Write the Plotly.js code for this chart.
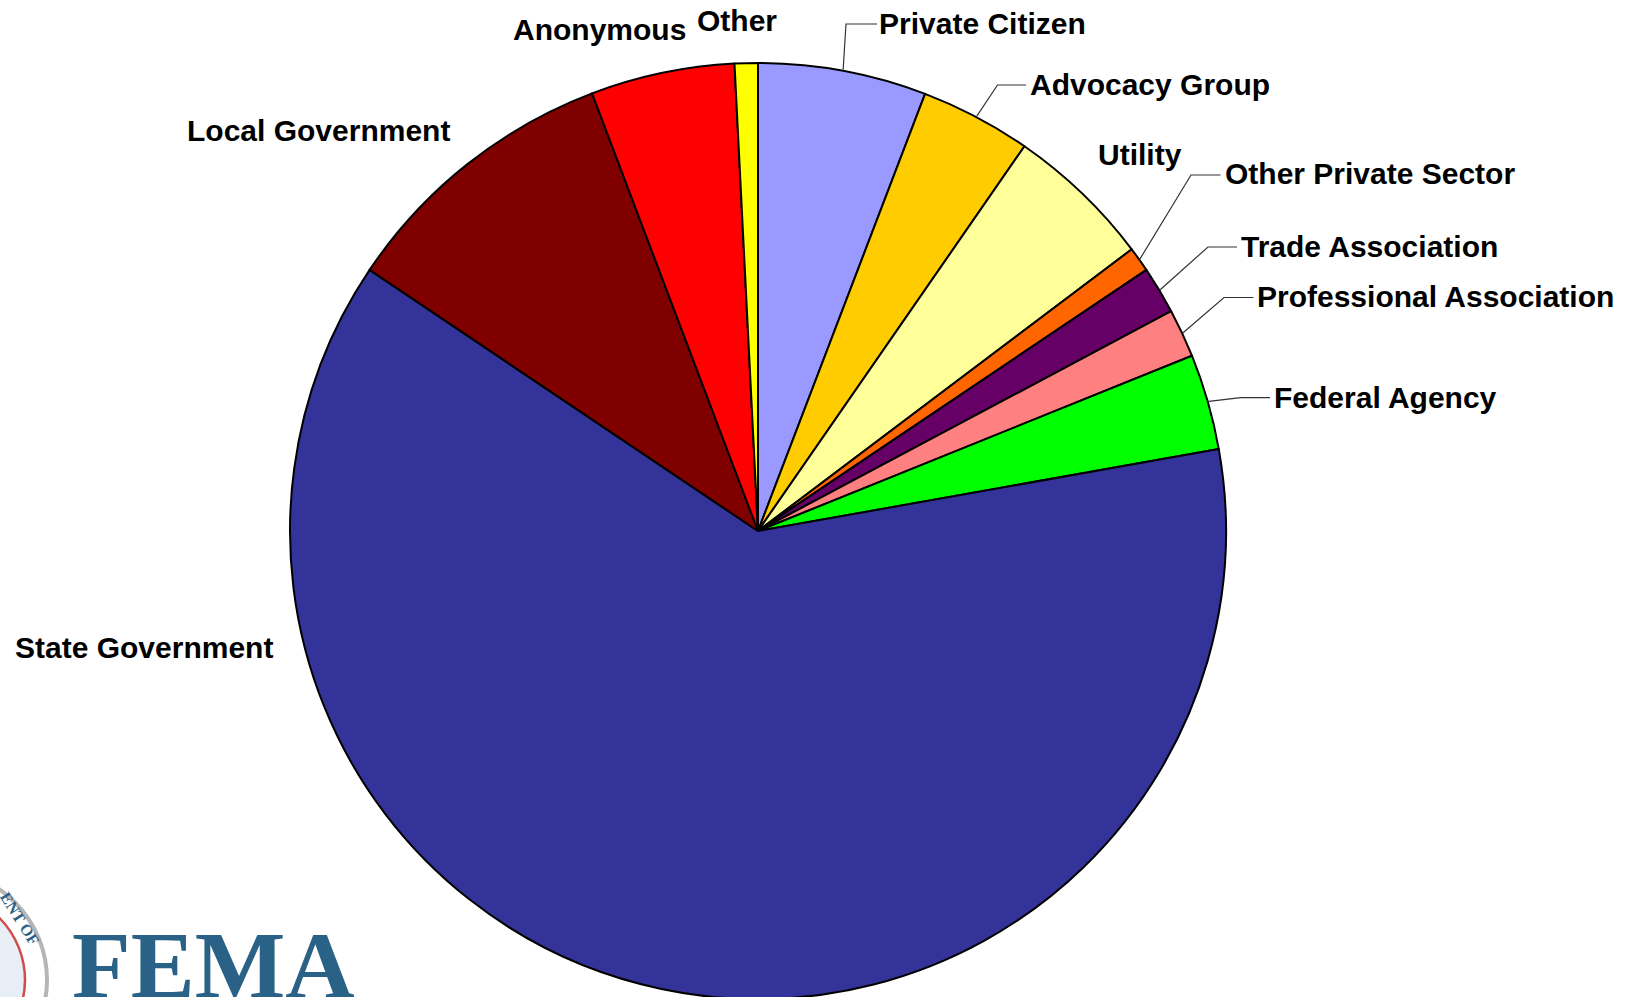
<!DOCTYPE html>
<html><head><meta charset="utf-8">
<script src="https://cdn.plot.ly/plotly-3.0.1.min.js"></script>
<style>html,body{margin:0;padding:0;overflow:hidden;background:#fff}#chart{width:1625px;height:1000px}</style>
</head><body><div id="chart"></div>
<script>
// ---- data ----
const categories = ["Private Citizen","Advocacy Group","Utility","Other Private Sector","Trade Association","Professional Association","Federal Agency","State Government","Local Government","Anonymous","Other"];
const shares = [5.81,3.83,5.08,0.86,1.64,1.67,3.31,62.22,9.81,4.97,0.80];
const colors = ["#9999FF","#FFCC00","#FFFF99","#FF6600","#660066","#FF8080","#00FF00","#333399","#800000","#FF0000","#FFFF00"];

// ---- layout config (pixels) ----
const W = 1625, H = 1000;
const pieCx = 758, pieCy = 531, pieR = 468;
// label placement: [x, y, xanchor, elbowX, elbowY, endX] (elbow null = no leader)
const labelPos = {
  "Private Citizen":          [877, 23, "left", 846, 24, 877],
  "Advocacy Group":           [1028, 85, "left", 997.5, 85, 1026],
  "Utility":                  [1139.5, 154, "center", null],
  "Other Private Sector":     [1223, 174, "left", 1191, 175, 1220.5],
  "Trade Association":        [1238.5, 246, "left", 1208, 247, 1237],
  "Professional Association": [1255, 297, "left", 1224, 297.5, 1253.5],
  "Federal Agency":           [1271.7, 397, "left", 1240.7, 397.7, 1270],
  "State Government":         [12.5, 647, "left", null],
  "Local Government":         [184.6, 130, "left", null],
  "Anonymous":                [688, 29, "right", null],
  "Other":                    [695, 20, "left", null]
};
const px = x => x / W;
const py = y => 1 - y / H;

const trace = {
  type: "pie",
  labels: categories,
  values: shares,
  sort: false,
  direction: "clockwise",
  rotation: 0,
  textinfo: "none",
  hoverinfo: "label+percent",
  marker: {colors: colors, line: {color: "#000000", width: 2}},
  domain: {x: [px(pieCx - pieR), px(pieCx + pieR)], y: [py(pieCy + pieR), py(pieCy - pieR)]}
};

const total = shares.reduce((a, b) => a + b, 0);
const annotations = [];
const shapes = [];
let cum = 0;
categories.forEach((c, i) => {
  const mid = (cum + shares[i] / 2) / total * 2 * Math.PI;
  cum += shares[i];
  const p = labelPos[c];
  annotations.push({
    text: c, xref: "paper", yref: "paper", x: px(p[0]), y: py(p[1]),
    xanchor: p[2], yanchor: "middle", showarrow: false,
    font: {family: "Liberation Sans, Arial, sans-serif", size: 30, color: "#000", weight: 700}
  });
  if (p[3] !== null) {
    const sx = pieCx + (pieR + 1) * Math.sin(mid);
    const sy = pieCy - (pieR + 1) * Math.cos(mid);
    shapes.push({
      type: "path", xref: "paper", yref: "paper",
      path: `M ${px(sx)} ${py(sy)} L ${px(p[3])} ${py(p[4])} L ${px(p[5])} ${py(p[4])}`,
      line: {color: "#333333", width: 1.2}
    });
  }
});

// FEMA logo (decorative)
shapes.push({type: "circle", xref: "paper", yref: "paper", layer: "below",
  x0: px(-173), x1: px(47), y0: py(870), y1: py(1090),
  line: {color: "#b5b5b5", width: 4}, fillcolor: "#ffffff"});
shapes.push({type: "circle", xref: "paper", yref: "paper", layer: "below",
  x0: px(-151), x1: px(25), y0: py(892), y1: py(1068),
  line: {color: "#d24a4a", width: 2.5}, fillcolor: "#e8eef5"});
annotations.push({text: "ENT OF", xref: "paper", yref: "paper", x: px(20), y: py(918),
  xanchor: "center", yanchor: "middle", showarrow: false, textangle: 58,
  font: {family: "Liberation Serif, serif", size: 16, color: "#2a5f86", weight: 700}});
annotations.push({text: "FEMA", xref: "paper", yref: "paper", x: px(70), y: py(965),
  xanchor: "left", yanchor: "middle", showarrow: false,
  font: {family: "Liberation Serif, Times New Roman, serif", size: 96, color: "#2A6186", weight: 700}});

const layout = {
  width: W, height: H,
  margin: {l: 0, r: 0, t: 0, b: 0},
  showlegend: false,
  paper_bgcolor: "#ffffff",
  annotations: annotations,
  shapes: shapes
};
Plotly.newPlot("chart", [trace], layout, {displayModeBar: false, staticPlot: false});
</script>
</body></html>
